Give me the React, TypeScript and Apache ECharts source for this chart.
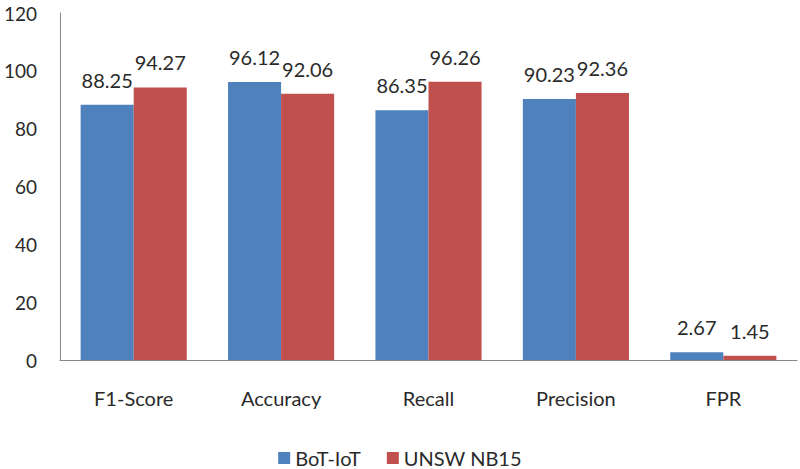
import React, { useEffect, useRef } from "react";
import * as echarts from "echarts";

const categories = ["F1-Score", "Accuracy", "Recall", "Precision", "FPR"];
const botIot = [88.25, 96.12, 86.35, 90.23, 2.67];
const unswNb15 = [94.27, 92.06, 96.26, 92.36, 1.45];
const seriesNames = ["BoT-IoT", "UNSW NB15"];

const FONT = "Lato, 'Open Sans', sans-serif";
const TEXT = "#2a2a2a";

export default function App() {
  const ref = useRef<HTMLDivElement>(null);
  useEffect(() => {
    if (!ref.current) return;
    const chart = echarts.init(ref.current, undefined, { renderer: "svg" });
    const labelStyle = {
      show: true,
      position: "top" as const,
      color: TEXT,
      fontFamily: FONT,
      fontSize: 20,
      distance: 15,
    };
    chart.setOption({
      animation: false,
      backgroundColor: "#ffffff",
      textStyle: { fontFamily: FONT },
      grid: { left: 60, right: 3, top: 13, bottom: 109, containLabel: false },
      legend: {
        data: seriesNames,
        top: 447,
        padding: 0,
        left: "center",
        itemWidth: 12,
        itemHeight: 12,
        itemGap: 26,
        icon: "rect",
        textStyle: { fontFamily: FONT, fontSize: 20, color: TEXT, lineHeight: 22 },
      },
      xAxis: {
        type: "category",
        data: categories,
        axisLine: { lineStyle: { color: "#868686", width: 1 } },
        axisTick: { show: false },
        axisLabel: { fontFamily: FONT, fontSize: 20, color: TEXT, margin: 28 },
      },
      yAxis: {
        type: "value",
        min: 0,
        max: 120,
        interval: 20,
        axisLine: { show: true, lineStyle: { color: "#868686", width: 1 } },
        axisTick: { show: false },
        splitLine: { show: false },
        axisLabel: { fontFamily: FONT, fontSize: 19, color: TEXT, margin: 23 },
      },
      series: [
        {
          name: seriesNames[0],
          type: "bar",
          data: botIot,
          itemStyle: { color: "#4F81BD" },
          barGap: "0%",
          barCategoryGap: "28%",
          label: labelStyle,
        },
        {
          name: seriesNames[1],
          type: "bar",
          data: unswNb15,
          itemStyle: { color: "#C0504D" },
          barGap: "0%",
          barCategoryGap: "28%",
          label: labelStyle,
        },
      ],
    });
    return () => chart.dispose();
  }, []);
  return (
    <div
      ref={ref}
      style={{ position: "fixed", left: 0, top: 0, width: 800, height: 469 }}
    />
  );
}
